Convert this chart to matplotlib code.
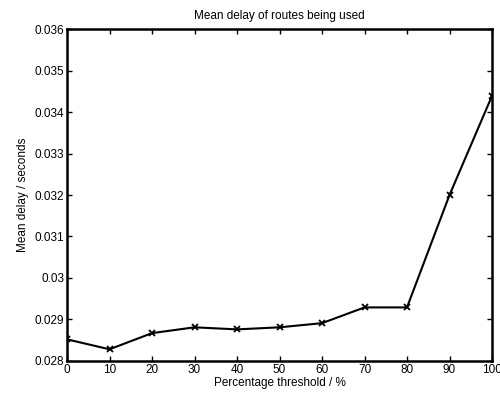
import matplotlib
matplotlib.use("Agg")
import matplotlib.pyplot as plt

plt.rcParams['font.family'] = ['Liberation Sans', 'DejaVu Sans']

# data
thresholds = [0, 10, 20, 30, 40, 50, 60, 70, 80, 90, 100]
mean_delay = [0.02852, 0.02828, 0.02867, 0.02881, 0.02876, 0.02881,
              0.02891, 0.02929, 0.02929, 0.0320, 0.03439]
x_ticks = [0, 10, 20, 30, 40, 50, 60, 70, 80, 90, 100]
y_ticks = [0.028, 0.029, 0.03, 0.031, 0.032, 0.033, 0.034, 0.035, 0.036]
y_labels = ['0.028', '0.029', '0.03', '0.031', '0.032', '0.033', '0.034', '0.035', '0.036']

fig = plt.figure(figsize=(5.0, 3.94), dpi=100)
ax = fig.add_axes([0.134, 0.084, 0.850, 0.842])

ax.plot(thresholds, mean_delay, 'k-', linewidth=1.5, marker='x',
        markersize=4, markeredgewidth=1.3)

ax.set_xlim(0, 100)
ax.set_ylim(0.028, 0.036)
ax.set_xticks(x_ticks)
ax.set_yticks(y_ticks)
ax.set_yticklabels(y_labels)
ax.tick_params(direction='in', top=True, right=True, length=3.5, width=1,
               labelsize=8.5, pad=2)
for sp in ax.spines.values():
    sp.set_linewidth(1.8)

ax.set_title('Mean delay of routes being used', fontsize=8.5, pad=7)
ax.set_xlabel('Percentage threshold / %', fontsize=8.5, labelpad=1)
ax.set_ylabel('Mean delay / seconds', fontsize=8.5, labelpad=4)

fig.savefig('out.png', dpi=100)
